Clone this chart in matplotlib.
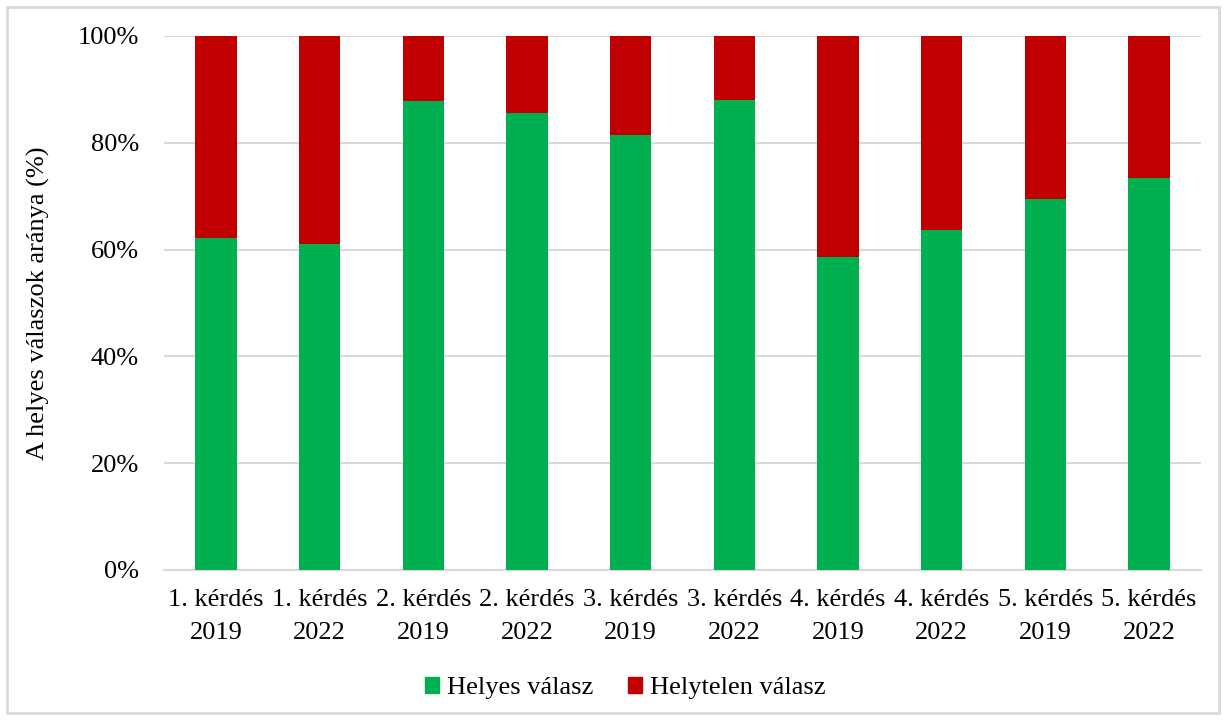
import matplotlib.pyplot as plt
from matplotlib.patches import Rectangle, Patch

# Share of correct / incorrect answers per question and survey year (%)
questions = ["1. kérdés", "1. kérdés", "2. kérdés", "2. kérdés", "3. kérdés",
             "3. kérdés", "4. kérdés", "4. kérdés", "5. kérdés", "5. kérdés"]
years = ["2019", "2022", "2019", "2022", "2019", "2022", "2019", "2022", "2019", "2022"]
helyes = [62.1, 61.1, 87.8, 85.5, 81.4, 88.0, 58.6, 63.7, 69.4, 73.5]
helytelen = [100 - v for v in helyes]

GREEN = "#00B050"
RED = "#C00000"
GRID = "#D9D9D9"

plt.rcParams["font.family"] = ["Liberation Serif", "DejaVu Serif"]
FS = 19

W, H = 1226, 720
fig = plt.figure(figsize=(W / 100, H / 100), dpi=100)
ax = fig.add_axes([164 / W, 1 - 570 / H, (1201 - 164) / W, (570 - 36) / H])

x = range(len(helyes))
labels = [f"{q}\n{y}" for q, y in zip(questions, years)]
ax.bar(x, helyes, width=0.4, color=GREEN, zorder=3)
ax.bar(x, helytelen, width=0.4, bottom=helyes, color=RED, zorder=3)

ax.set_xlim(-0.5, len(helyes) - 0.5)
ax.set_ylim(0, 100)
ax.set_yticks(range(0, 101, 20))
ax.set_yticklabels([f"{v}%" for v in range(0, 101, 20)])
ax.set_xticks(list(x))
ax.set_xticklabels(labels, linespacing=1.6)
ax.tick_params(axis="both", length=0, labelsize=FS, colors="black")
ax.tick_params(axis="x", pad=14)
ax.tick_params(axis="y", pad=18)
ax.yaxis.grid(True, color=GRID, linewidth=1.5, zorder=0)
for side in ["top", "right", "left"]:
    ax.spines[side].set_visible(False)
ax.spines["bottom"].set_color(GRID)
ax.spines["bottom"].set_linewidth(1.5)
ax.spines["bottom"].set_zorder(1)

ax.set_ylabel("A helyes válaszok aránya (%)", fontsize=FS)
ax.yaxis.set_label_coords(-0.11, 0.5)

handles = [Patch(color=GREEN, label="Helyes válasz"),
           Patch(color=RED, label="Helytelen válasz")]
fig.legend(handles=handles, loc="center", bbox_to_anchor=(0.51, 1 - 688 / H),
           ncol=2, frameon=False, fontsize=FS, handlelength=0.55,
           handleheight=0.55, handletextpad=0.3, columnspacing=1.3)

# light frame around the whole chart
fig.patches.append(Rectangle((7 / W, 7 / H), (W - 14) / W, (H - 14) / H,
                             transform=fig.transFigure, fill=False,
                             edgecolor=GRID, linewidth=2))

fig.savefig("out.png", dpi=100)
